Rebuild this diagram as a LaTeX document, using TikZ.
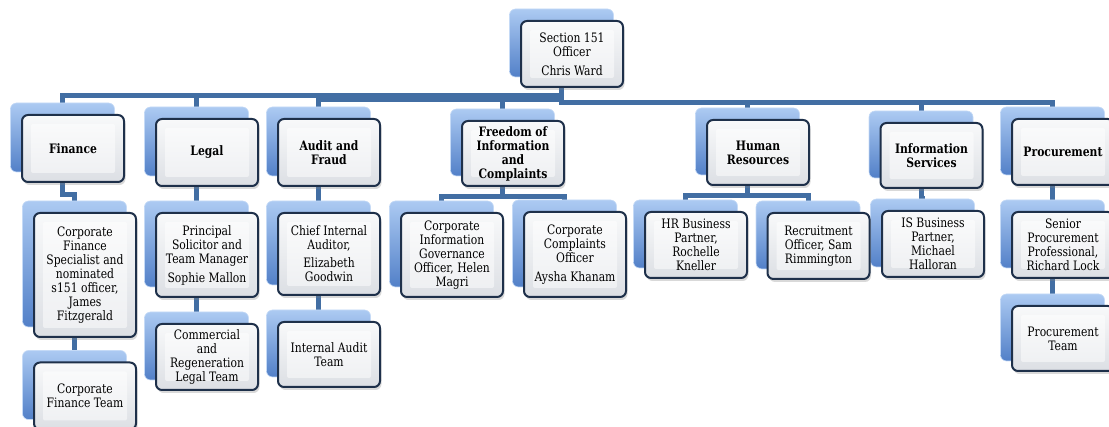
\documentclass[tikz,border=0pt]{standalone}
\usepackage{fontspec}
\setmainfont{DejaVu Serif}[FakeStretch=0.83]
\usepackage{tikz}
\usetikzlibrary{fit,backgrounds,shadows}

\definecolor{navy}{RGB}{30,48,74}
\definecolor{linkblue}{RGB}{66,110,163}
\definecolor{backtop}{RGB}{172,202,242}
\definecolor{backbot}{RGB}{82,128,200}
\definecolor{facetop}{RGB}{248,249,250}
\definecolor{facebot}{RGB}{220,223,228}

\pgfdeclarelayer{lines}
\pgfsetlayers{lines,background,main}

\begin{document}
\begin{tikzpicture}[x=1pt, y=-1pt,
    box/.style={draw=navy, line width=2pt, rounded corners=6pt,
        top color=facetop, bottom color=facebot,
        minimum width=102pt, inner sep=2pt, align=center,
        font=\fontsize{13}{14}\selectfont,
        drop shadow={opacity=0.3, shadow xshift=1.5pt, shadow yshift=-3pt},
        path picture={\fill[white, opacity=0.5, rounded corners=2pt]
            ([shift={(9pt,9pt)}]path picture bounding box.south west) rectangle
            ([shift={(-9pt,-9pt)}]path picture bounding box.north east);}},
    head/.style={box, font=\fontsize{13}{14}\selectfont\bfseries},
    back/.style={draw=backtop!70!white, line width=0.6pt, rounded corners=6pt,
        top color=backtop, bottom color=backbot, inner sep=0pt},
    link/.style={draw=linkblue, line width=5pt}
]
    \useasboundingbox (0,0) rectangle (1109,427);

    % Head of section
    \node[box, minimum height=66pt] (s151) at (572,54) {Section 151\\Officer\\[5pt]Chris Ward};

    % Services
    \node[head, minimum height=67pt] (fin) at (73,148.5) {Finance};
    \node[head, minimum height=67pt] (legal) at (207,152.5) {Legal};
    \node[head, minimum height=67pt] (audit) at (329,152.5) {Audit and\\Fraud};
    \node[head, minimum height=65pt] (foi) at (513,153.5) {Freedom of\\Information\\and\\Complaints};
    \node[head, minimum height=65pt] (hr) at (758,152.5) {Human\\Resources};
    \node[head, minimum height=65pt] (is) at (931.5,155.5) {Information\\Services};
    \node[head, minimum height=66pt] (proc) at (1063,152) {Procurement};

    % Posts and teams
    \node[box, minimum height=124pt] (fin1) at (85,275) {Corporate\\Finance\\Specialist and\\nominated\\s151 officer,\\James\\Fitzgerald};
    \node[box, minimum height=67pt] (fin2) at (85,396) {Corporate\\Finance Team};
    \node[box, minimum height=84pt] (legal1) at (207,255) {Principal\\Solicitor and\\Team Manager\\[5pt]Sophie Mallon};
    \node[box, minimum height=66pt] (legal2) at (207,357) {Commercial\\and\\Regeneration\\Legal Team};
    \node[box, minimum height=82pt] (audit1) at (329,254) {Chief Internal\\Auditor,\\[4pt]Elizabeth\\Goodwin};
    \node[box, minimum height=65pt] (audit2) at (329,354.5) {Internal Audit\\Team};
    \node[box, minimum height=84pt] (foi1) at (452,255) {Corporate\\Information\\Governance\\Officer, Helen\\Magri};
    \node[box, minimum height=85pt] (foi2) at (575,254.5) {Corporate\\Complaints\\Officer\\[5pt]Aysha Khanam};
    \node[box, minimum height=66pt] (hr1) at (696,245) {HR Business\\Partner,\\Rochelle\\Kneller};
    \node[box, minimum height=66pt] (hr2) at (818.5,246) {Recruitment\\Officer, Sam\\Rimmington};
    \node[box, minimum height=66pt] (is1) at (933,244) {IS Business\\Partner,\\Michael\\Halloran};
    \node[box, minimum height=66pt] (proc1) at (1063,245) {Senior\\Procurement\\Professional,\\Richard Lock};
    \node[box, minimum height=65pt] (proc2) at (1063,338.5) {Procurement\\Team};

    % Blue backing cards
    \begin{pgfonlayer}{background}
        \foreach \n in {s151,fin,legal,audit,foi,hr,is,proc,fin1,fin2,legal1,legal2,
                        audit1,audit2,foi1,foi2,hr1,hr2,is1,proc1,proc2}
            \node[back, fit=(\n), xshift=-10.5pt, yshift=11pt] (\n-b) {};
    \end{pgfonlayer}

    % Connectors
    \begin{pgfonlayer}{lines}
        \coordinate (busA) at (0,96);
        \coordinate (busB) at (0,100);
        \coordinate (busC) at (0,103);
        \foreach \n in {fin,legal}
            \draw[link] (s151-b.south) |- (\n-b.north |- busA) -- (\n-b.north);
        \foreach \n in {audit,foi}
            \draw[link] (s151-b.south) |- (\n-b.north |- busB) -- (\n-b.north);
        \foreach \n in {hr,is,proc}
            \draw[link] (s151-b.south) |- (\n-b.north |- busC) -- (\n-b.north);

        \draw[link] (fin-b.south) -- ++(0,22) -| (fin1-b.north);
        \draw[link] (fin1-b.south) -- (fin2-b.north);
        \draw[link] (legal-b.south) -- (legal1-b.north);
        \draw[link] (legal1-b.south) -- (legal2-b.north);
        \draw[link] (audit-b.south) -- (audit1-b.north);
        \draw[link] (audit1-b.south) -- (audit2-b.north);
        \draw[link] (foi-b.south) -- ++(0,20) -| (foi1-b.north);
        \draw[link] (foi-b.south) -- ++(0,20) -| (foi2-b.north);
        \draw[link] (hr-b.south) -- ++(0,20) -| (hr1-b.north);
        \draw[link] (hr-b.south) -- ++(0,20) -| (hr2-b.north);
        \draw[link] (is-b.south) -- ++(0,20) -| (is1-b.north);
        \draw[link] (proc-b.south) -- (proc1-b.north);
        \draw[link] (proc1-b.south) -- (proc2-b.north);
    \end{pgfonlayer}
\end{tikzpicture}
\end{document}
